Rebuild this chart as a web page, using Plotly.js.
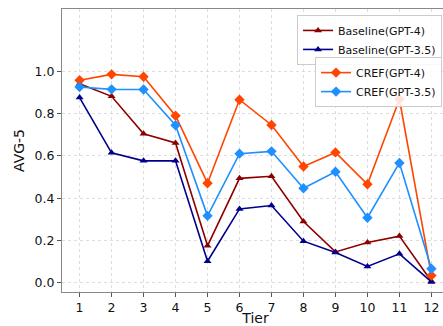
<!DOCTYPE html>
<html>
<head>
<meta charset="utf-8">
<script src="https://cdn.plot.ly/plotly-3.0.1.min.js"></script>
<style>html,body{margin:0;padding:0;overflow:hidden;background:#fff;}#chart{width:452px;height:326px;}</style>
</head>
<body>
<div id="chart"></div>
<script>
const tiers = [1,2,3,4,5,6,7,8,9,10,11,12];
const baselineGPT4  = [0.943,0.883,0.705,0.662,0.174,0.494,0.504,0.289,0.145,0.190,0.220,0.006];
const baselineGPT35 = [0.877,0.615,0.577,0.577,0.101,0.349,0.365,0.196,0.142,0.076,0.136,0.003];
const crefGPT4      = [0.959,0.987,0.976,0.791,0.471,0.867,0.747,0.550,0.617,0.466,0.869,0.033];
const crefGPT35     = [0.927,0.916,0.915,0.746,0.316,0.611,0.622,0.447,0.525,0.307,0.567,0.065];
const yTicks = [0.0,0.2,0.4,0.6,0.8,1.0];
const yTickText = ['0.0','0.2','0.4','0.6','0.8','1.0'];

const traces = [
  {x: tiers, y: baselineGPT4, name: 'Baseline(GPT-4)', mode: 'lines+markers',
   line: {color: '#8B0000', width: 1.6}, marker: {symbol: 'triangle-up', size: 7, color: '#8B0000'}, legend: 'legend'},
  {x: tiers, y: baselineGPT35, name: 'Baseline(GPT-3.5)', mode: 'lines+markers',
   line: {color: '#00008B', width: 1.6}, marker: {symbol: 'triangle-up', size: 7, color: '#00008B'}, legend: 'legend'},
  {x: tiers, y: crefGPT4, name: 'CREF(GPT-4)', mode: 'lines+markers',
   line: {color: '#FF4500', width: 1.6}, marker: {symbol: 'diamond', size: 8, color: '#FF4500'}, legend: 'legend2'},
  {x: tiers, y: crefGPT35, name: 'CREF(GPT-3.5)', mode: 'lines+markers',
   line: {color: '#1E90FF', width: 1.6}, marker: {symbol: 'diamond', size: 8, color: '#1E90FF'}, legend: 'legend2'}
];

const font = {family: 'DejaVu Sans, sans-serif', size: 12, color: '#111'};
const layout = {
  width: 452, height: 326,
  margin: {l: 62, r: 3, t: 9, b: 34, pad: 0},
  paper_bgcolor: '#fff', plot_bgcolor: '#fff',
  font: font,
  showlegend: true,
  xaxis: {
    range: [0.45, 12.55], tickvals: tiers, ticktext: tiers.map(String),
    showgrid: true, gridcolor: '#d4d4d4', griddash: 'dot', gridwidth: 0.8,
    showline: true, linecolor: '#888', linewidth: 1, mirror: true,
    ticks: 'outside', ticklen: 4, tickcolor: '#555', zeroline: false,
    tickfont: {family: 'DejaVu Sans, sans-serif', size: 12.5, color: '#111'},
    title: {text: 'Tier', font: {family: 'DejaVu Sans, sans-serif', size: 14, color: '#111'}, standoff: 6}
  },
  yaxis: {
    range: [-0.045, 1.297], tickvals: yTicks, ticktext: yTickText,
    showgrid: true, gridcolor: '#d4d4d4', griddash: 'dot', gridwidth: 0.8,
    showline: true, linecolor: '#888', linewidth: 1, mirror: true,
    ticks: 'outside', ticklen: 4, tickcolor: '#555', zeroline: false,
    tickfont: {family: 'DejaVu Sans, sans-serif', size: 12.5, color: '#111'},
    title: {text: 'AVG-5', font: {family: 'DejaVu Sans, sans-serif', size: 14, color: '#111'}, standoff: 6}
  },
  legend: {
    x: 0.982, y: 0.979, xanchor: 'right', yanchor: 'top',
    bgcolor: 'rgba(255,255,255,0.85)', bordercolor: '#ccc', borderwidth: 1,
    font: {family: 'DejaVu Sans, sans-serif', size: 11, color: '#111'},
    tracegroupgap: 0, itemwidth: 30
  },
  legend2: {
    x: 0.982, y: 0.83, xanchor: 'right', yanchor: 'top',
    bgcolor: 'rgba(255,255,255,0.85)', bordercolor: '#ccc', borderwidth: 1,
    font: {family: 'DejaVu Sans, sans-serif', size: 11, color: '#111'},
    tracegroupgap: 0, itemwidth: 30
  }
};
Plotly.newPlot('chart', traces, layout, {displayModeBar: false, staticPlot: true});
</script>
</body>
</html>
